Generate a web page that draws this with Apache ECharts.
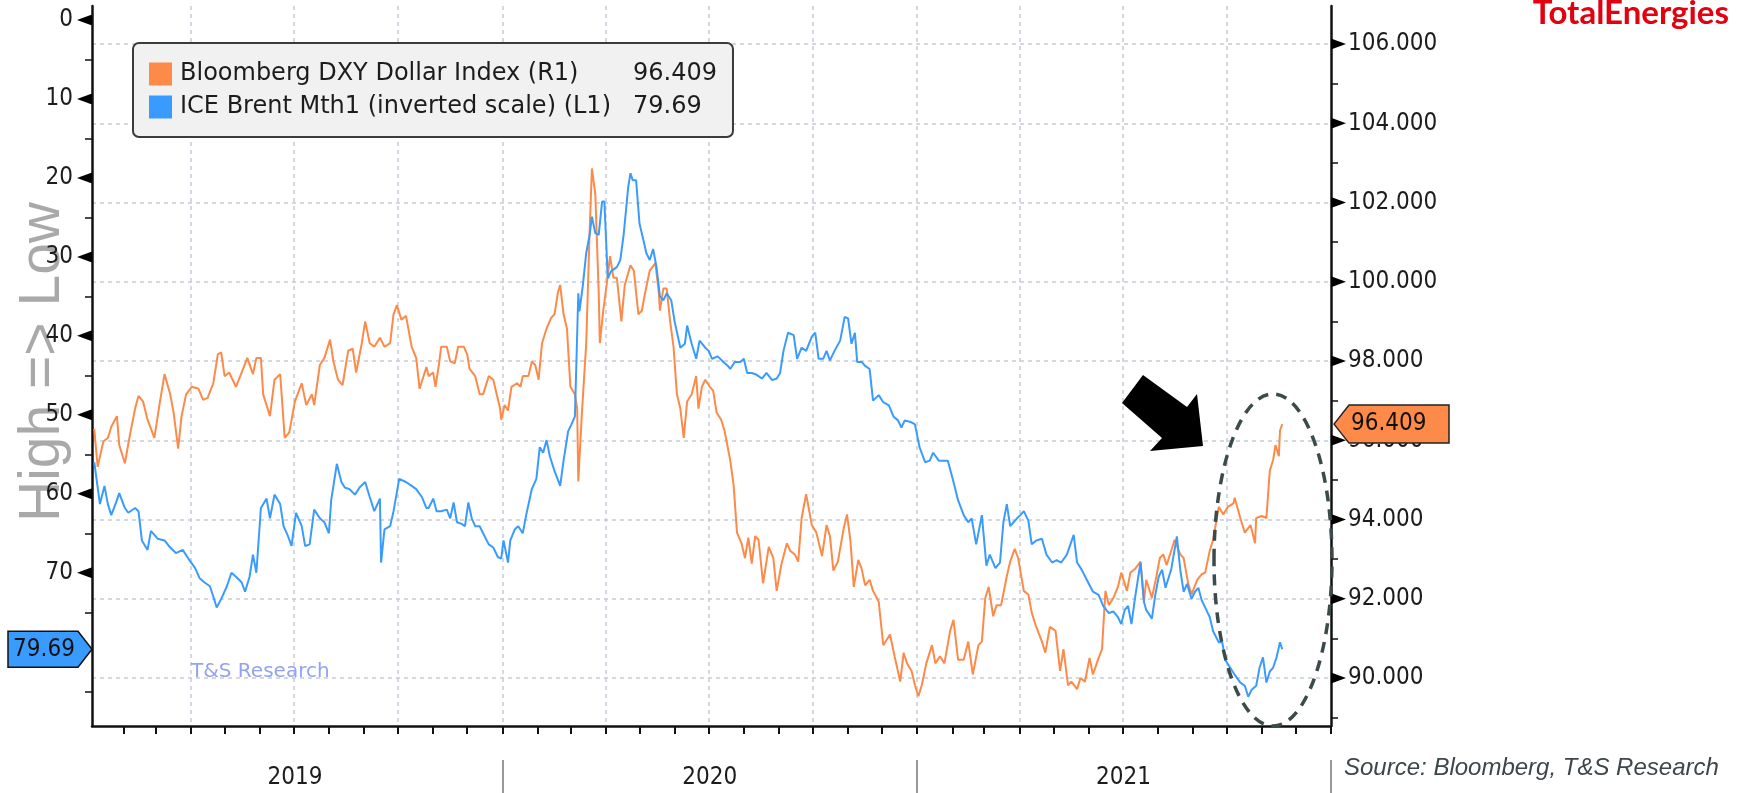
<!DOCTYPE html>
<html>
<head>
<meta charset="utf-8">
<script src="https://cdn.jsdelivr.net/npm/echarts@6/dist/echarts.min.js"></script>
<style>
  html, body { margin: 0; padding: 0; background: #fff; }
  #chart { width: 1737px; height: 793px; }
</style>
</head>
<body>
<div id="chart"></div>
<script>
var FONT = "'DejaVu Sans Condensed','DejaVu Sans',sans-serif";
var FONT_WIDE = "'DejaVu Sans',sans-serif";

// points are [days since 2019-01-04, value]
var dxy2019 = [
  [2,96.29],[5,95.33],[10,95.97],[14,96.06],[17,96.34],[22,96.61],[24,95.88],[29,95.42],[33,96.06],[38,96.80],
  [41,97.12],[45,96.98],[49,96.52],[55,96.06],[60,96.98],[64,97.67],[69,97.16],[72,96.70],[76,95.79],[79,96.61],
  [83,97.16],[88,97.35],[94,97.30],[98,97.02],[102,97.07],[107,97.44],[111,98.17],[114,98.22],[117,97.62],[121,97.71],
  [127,97.35],[132,97.71],[137,98.08],[142,97.67],[145,98.08],[149,98.08],[151,97.16],[157,96.61],[161,97.53],[166,97.67],
  [170,96.06],[174,96.20],[179,96.98],[185,97.44],[189,96.89],[194,97.16],[196,96.89],[201,97.90],[205,98.08],[210,98.54],
  [213,97.99],[217,97.53],[221,97.39],[226,98.26],[230,98.31],[233,97.71],[238,98.45],[241,99.00],[245,98.45],[249,98.36],
  [254,98.59],[258,98.36],[263,98.45],[266,99.18],[269,99.41],[273,99.04],[277,99.14],[282,98.36],[286,98.08],[289,97.30],
  [295,97.85],[297,97.62],[301,97.71],[303,97.35],[306,97.90],[308,98.36],[313,98.36],[316,97.99],[320,97.94],[323,98.36],
  [328,98.36],[331,98.17],[333,97.81],[338,97.62],[342,97.16],[345,97.16],[350,97.62],[354,97.53],[357,97.16],[360,96.80]
];
var dxy2020 = [
  [361,96.52],[364,96.89],[367,96.75],[370,97.35],[375,97.44],[378,97.35],[380,97.62],[385,97.62],[388,97.99],[391,97.90],
  [394,97.53],[397,98.45],[401,98.82],[405,99.09],[408,99.18],[411,99.73],[413,99.92],[416,99.18],[419,98.82],[422,97.35],
  [426,97.16],[428,96.80],[429,94.96],[432,96.61],[433,97.07],[436,98.45],[439,101.29],[441,102.86],[444,102.21],[447,99.73],
  [448,98.45],[451,99.27],[454,99.92],[457,100.65],[460,100.10],[463,100.10],[467,99.00],[470,99.92],[475,100.42],[478,100.28],
  [482,99.18],[485,99.27],[488,99.73],[492,100.28],[497,100.47],[500,99.73],[501,99.27],[504,99.83],[507,99.83],[510,99.00],
  [513,98.36],[516,97.16],[519,96.80],[522,96.06],[525,96.98],[529,97.16],[533,97.62],[535,96.80],[538,97.35],[541,97.53],
  [545,97.35],[548,97.25],[551,96.70],[555,96.52],[558,96.24],[563,95.50],[566,94.87],[569,93.67],[573,93.40],[576,93.03],
  [579,93.54],[582,92.89],[585,93.58],[588,93.49],[592,92.39],[597,93.31],[601,93.03],[604,92.20],[608,92.85],[613,93.40],
  [616,93.21],[620,93.12],[623,92.94],[626,94.04],[630,94.64],[635,93.86],[639,93.67],[644,93.08],[648,93.86],[651,93.58],
  [654,92.71],[658,92.94],[663,93.76],[666,94.13],[669,93.49],[672,92.30],[676,92.98],[679,92.75],[682,92.34],[686,92.48],
  [689,92.20],[694,91.93],[698,90.83],[704,91.10],[708,90.55],[713,89.91],[716,90.64],[719,90.37],[723,90.18],[726,89.82]
];
var dxy2021 = [
  [729,89.54],[732,89.82],[736,90.37],[741,90.83],[744,90.37],[748,90.55],[752,90.37],[757,91.19],[760,91.47],[764,90.46],
  [769,90.46],[773,90.92],[777,90.09],[782,90.83],[785,90.92],[788,92.02],[791,92.30],[795,91.56],[798,91.84],[802,91.84],
  [807,92.57],[810,92.94],[814,93.26],[817,93.03],[822,92.20],[826,92.11],[829,91.65],[833,91.29],[838,90.92],[841,90.64],
  [845,91.29],[850,91.19],[854,90.18],[857,90.73],[861,89.82],[864,89.91],[869,89.72],[872,90.00],[876,89.91],[880,90.51],
  [883,90.09],[888,90.51],[891,90.73],[894,92.20],[897,91.84],[901,92.02],[905,92.30],[908,92.66],[913,92.20],[916,92.66],
  [920,92.75],[925,92.94],[928,91.93],[930,92.48],[935,92.02],[939,92.57],[942,93.03],[945,93.12],[948,92.85],[951,93.12],
  [955,93.49],[960,93.12],[963,93.03],[967,92.39],[970,92.11],[975,92.48],[979,92.62],[982,92.66],[986,93.21],[989,93.49],
  [994,94.32],[998,94.13],[1002,94.32],[1007,94.41],[1008,94.55],[1013,94.04],[1017,93.67],[1022,93.86],[1026,93.40],[1027,94.04],
  [1032,94.09],[1036,94.04],[1039,95.23],[1042,95.51],[1044,95.88],[1047,95.60],[1048,96.24],[1050,96.409]
];
var brent2019 = [
  [2,56.0],[7,61.3],[11,59.0],[14,61.3],[17,62.7],[22,60.8],[24,59.9],[29,61.8],[32,62.4],[38,61.8],
  [41,62.2],[44,65.9],[49,67.1],[52,64.7],[58,65.7],[64,65.9],[69,66.8],[74,67.5],[80,67.1],[85,68.2],
  [91,69.4],[95,70.7],[99,71.2],[104,71.7],[107,73.0],[110,74.4],[114,73.3],[119,71.7],[123,70.0],[127,70.5],
  [132,71.2],[135,72.4],[139,70.5],[142,67.7],[145,70.0],[149,61.8],[154,60.6],[157,63.1],[161,60.1],[166,61.3],
  [169,64.1],[173,65.4],[176,66.6],[180,62.4],[185,64.1],[188,66.6],[192,66.4],[196,62.0],[201,63.1],[205,63.6],
  [209,65.0],[211,60.8],[216,56.2],[220,58.5],[223,59.2],[227,59.4],[232,60.1],[236,59.2],[241,58.5],[245,60.4],
  [249,62.2],[254,60.6],[255,68.7],[258,64.5],[263,64.1],[266,62.2],[271,58.1],[277,58.5],[282,59.0],[286,59.4],
  [291,60.4],[295,61.8],[297,61.8],[301,60.6],[304,62.2],[308,62.2],[313,62.0],[316,63.1],[319,61.1],[322,63.6],
  [326,63.8],[329,64.1],[332,61.1],[335,63.1],[338,64.1],[342,64.1],[345,65.0],[350,66.4],[354,66.8],[358,68.0],
  [361,68.2]
];
var brent2020 = [
  [363,65.9],[367,68.7],[369,65.9],[373,64.5],[376,64.1],[380,65.0],[383,62.7],[388,59.4],[392,58.1],[395,54.1],
  [398,54.8],[401,53.2],[404,55.3],[408,57.1],[413,59.0],[416,55.8],[420,52.1],[423,51.2],[426,50.2],[429,34.6],
  [430,36.9],[433,33.6],[436,29.5],[439,27.2],[441,24.9],[444,27.0],[447,27.2],[450,23.0],[452,23.0],[455,32.7],
  [458,31.8],[463,31.3],[466,30.4],[469,27.2],[473,21.2],[475,19.4],[477,20.3],[480,20.3],[483,25.8],[486,27.6],
  [489,29.5],[492,30.4],[495,29.0],[498,31.3],[501,35.0],[504,35.5],[507,34.6],[511,35.5],[514,38.2],[519,41.5],
  [523,41.0],[525,38.7],[529,41.0],[533,42.9],[536,40.6],[541,41.5],[544,41.9],[547,42.9],[552,42.6],[557,43.3],
  [561,43.8],[563,44.2],[567,43.3],[572,43.3],[575,42.9],[578,44.7],[582,44.7],[586,44.9],[591,45.4],[595,44.7],
  [600,45.6],[604,45.4],[607,44.7],[610,41.9],[614,39.6],[619,39.9],[622,42.9],[626,41.5],[630,41.9],[635,40.1],
  [638,39.6],[641,42.9],[645,42.9],[648,41.9],[651,43.1],[655,41.9],[660,40.6],[664,37.6],[667,37.8],[670,41.0],
  [673,39.6],[675,43.3],[679,43.3],[682,43.8],[686,44.2],[689,48.2],[694,47.5],[698,48.4],[703,48.8],[707,50.2],
  [711,50.7],[714,51.6],[717,50.7],[722,50.9],[726,51.2]
];
var brent2021 = [
  [730,54.1],[735,56.0],[739,55.8],[742,54.8],[747,55.8],[751,55.8],[755,55.8],[760,58.5],[764,60.8],[769,62.7],
  [773,63.6],[776,63.1],[780,66.4],[785,62.7],[789,69.1],[792,67.7],[797,69.4],[801,68.7],[804,63.6],[807,61.3],
  [810,64.1],[813,63.6],[816,63.1],[819,62.7],[822,62.2],[826,63.4],[829,66.4],[833,65.9],[838,65.7],[842,67.7],
  [847,68.7],[851,68.4],[855,68.7],[860,67.7],[866,65.2],[869,68.7],[873,69.6],[878,71.0],[883,72.4],[888,72.8],
  [892,74.2],[897,75.1],[901,74.9],[905,75.6],[908,76.5],[911,74.7],[914,74.2],[917,76.5],[920,73.3],[923,70.5],
  [925,68.7],[928,73.7],[930,74.7],[935,75.8],[938,72.8],[941,70.5],[944,69.6],[947,71.9],[950,70.5],[952,69.6],
  [957,65.4],[960,69.6],[963,72.4],[966,71.4],[970,73.3],[973,72.4],[976,71.9],[979,73.5],[983,74.7],[986,75.6],
  [989,77.4],[994,78.8],[997,78.8],[1000,81.1],[1004,82.0],[1008,82.9],[1013,83.9],[1017,84.3],[1020,85.7],[1023,84.8],
  [1027,84.3],[1030,82.0],[1033,80.7],[1036,83.9],[1039,82.5],[1042,82.0],[1045,80.7],[1048,78.8],[1050,79.69]
];

var leftLabels = [0, 10, 20, 30, 40, 50, 60, 70];
var leftMinor = [5, 15, 25, 35, 45, 55, 65, 75, 85];
var rightLabels = [90, 92, 94, 96, 98, 100, 102, 104, 106];
var rightMinor = [89, 91, 93, 95, 97, 99, 101, 103, 105];
var years = [2019, 2020, 2021];

var nameDxy = 'Bloomberg DXY Dollar Index (R1)';
var nameBrent = 'ICE Brent Mth1 (inverted scale) (L1)';
var ORANGE = '#fd8a48';
var BLUE = '#3a9bff';

// little black pointers used on the major ticks
var triLeft = 'data:image/svg+xml;utf8,' + encodeURIComponent(
  '<svg xmlns="http://www.w3.org/2000/svg" width="15" height="11"><polygon points="0,5.5 15,0 15,11" fill="#000"/></svg>');
var triRight = 'data:image/svg+xml;utf8,' + encodeURIComponent(
  '<svg xmlns="http://www.w3.org/2000/svg" width="15" height="11"><polygon points="15,5.5 0,0 0,11" fill="#000"/></svg>');

function day(s) {
  var p = s.split('-');
  return new Date(+p[0], +p[1] - 1, +p[2]).getTime();
}
function toTime(parts) {
  var out = [];
  parts.forEach(function (arr) {
    arr.forEach(function (p) { out.push([new Date(2019, 0, 4 + p[0]).getTime(), p[1]]); });
  });
  return out;
}
var dxyData = toTime([dxy2019, dxy2020, dxy2021]);
var brentData = toTime([brent2019, brent2020, brent2021]);
var dxyLast = dxy2021[dxy2021.length - 1][1];
var brentLast = brent2021[brent2021.length - 1][1];

// month ticks, quarter grid lines, year separators
var monthTicks = [], quarterLines = [], yearSeps = [], yearMids = [];
for (var y = 2019; y <= 2021; y++) {
  for (var m = 0; m < 12; m++) {
    var t = new Date(y, m, 1).getTime();
    if (y === 2019 && m === 0) continue;
    monthTicks.push(t);
    if (m % 3 === 0) quarterLines.push(t);
  }
  yearSeps.push(new Date(y + 1, 0, 1).getTime());
}
monthTicks.push(new Date(2022, 0, 1).getTime());
years.forEach(function (yy) { yearMids.push(new Date(yy, 6, 2).getTime()); });

var xMin = day('2019-01-04'), xMax = day('2022-01-01');
var leftMin = -1.77, leftMax = 89.4;
var rightMin = 88.79, rightMax = 106.96;

var lastVal = {};
lastVal[nameDxy] = dxyLast.toFixed(3);
lastVal[nameBrent] = brentLast.toFixed(2);

var gridLine = { show: true, lineStyle: { color: '#c6cbd6', type: [4, 4], width: 1.5 } };

var option = {
  animation: false,
  backgroundColor: '#fff',
  grid: { left: 92, right: 406, top: 6, bottom: 67, containLabel: false, outerBoundsMode: 'none' },
  legend: {
    orient: 'vertical',
    left: 133,
    top: 43,
    icon: 'rect',
    itemWidth: 23,
    itemHeight: 23,
    itemGap: 9,
    padding: [19, 16, 18, 16],
    backgroundColor: '#f1f1f1',
    borderColor: '#3b3b3b',
    borderWidth: 2,
    borderRadius: 6,
    data: [nameDxy, nameBrent],
    formatter: function (name) {
      return '{n|' + name + '}{v|' + lastVal[name] + '}';
    },
    textStyle: {
      fontFamily: FONT_WIDE,
      fontSize: 24,
      color: '#1c1c1c',
      rich: {
        n: { width: 453, fontFamily: FONT_WIDE, fontSize: 24, color: '#1c1c1c', padding: [0, 0, 0, 3] },
        v: { fontFamily: FONT_WIDE, fontSize: 24, color: '#1c1c1c' }
      }
    }
  },
  xAxis: [
    {
      type: 'value', min: xMin, max: xMax, position: 'bottom',
      axisLine: { onZero: false, lineStyle: { color: '#111', width: 2.5 } },
      axisTick: { show: true, length: 8, customValues: monthTicks, lineStyle: { color: '#111', width: 2 } },
      axisLabel: { show: false },
      splitLine: { show: false }
    },
    {
      type: 'value', min: xMin, max: xMax, position: 'bottom',
      axisLine: { show: false, onZero: false },
      axisTick: { show: false, customValues: quarterLines },
      axisLabel: { show: false },
      splitLine: gridLine
    },
    {
      type: 'value', min: xMin, max: xMax, position: 'bottom', offset: 34,
      axisLine: { show: false, onZero: false },
      axisTick: { show: true, length: 33, customValues: yearSeps, lineStyle: { color: '#777', width: 1.5 } },
      axisLabel: {
        show: true, customValues: yearMids, margin: 6,
        fontFamily: FONT, fontSize: 24, color: '#1c1c1c',
        formatter: function (v) { return String(new Date(v).getFullYear()); }
      },
      splitLine: { show: false }
    }
  ],
  yAxis: [
    {
      type: 'value', position: 'left', inverse: true, min: leftMin, max: leftMax,
      axisLine: { show: true, onZero: false, lineStyle: { color: '#111', width: 2.5 } },
      axisTick: { show: true, length: 7, customValues: leftMinor, lineStyle: { color: '#111', width: 1.5 } },
      axisLabel: {
        show: true, customValues: leftLabels, margin: 0,
        formatter: function (v) { return '{v|' + v + '}{a| }'; },
        rich: {
          v: { fontFamily: FONT, fontSize: 24, color: '#1c1c1c', padding: [0, 4, 0, 0] },
          a: { width: 15, height: 11, backgroundColor: { image: triLeft } }
        }
      },
      splitLine: { show: false }
    },
    {
      type: 'value', position: 'right', min: rightMin, max: rightMax,
      axisLine: { show: true, onZero: false, lineStyle: { color: '#111', width: 2.5 } },
      axisTick: { show: true, length: 7, customValues: rightMinor, lineStyle: { color: '#111', width: 1.5 } },
      axisLabel: {
        show: true, customValues: rightLabels, margin: 0,
        formatter: function (v) { return '{a| }{v|' + v.toFixed(3) + '}'; },
        rich: {
          v: { fontFamily: FONT, fontSize: 24, color: '#1c1c1c', padding: [0, 0, 0, 2] },
          a: { width: 15, height: 11, backgroundColor: { image: triRight } }
        }
      },
      splitLine: { show: false }
    },
    {
      type: 'value', position: 'right', min: rightMin, max: rightMax,
      axisLine: { show: false, onZero: false },
      axisTick: { show: false, customValues: rightLabels },
      axisLabel: { show: false },
      splitLine: gridLine
    }
  ],
  series: [
    {
      name: nameDxy, type: 'line', xAxisIndex: 0, yAxisIndex: 1,
      showSymbol: false, symbol: 'none', color: ORANGE,
      lineStyle: { width: 2, color: ORANGE },
      data: dxyData
    },
    {
      name: nameBrent, type: 'line', xAxisIndex: 0, yAxisIndex: 0,
      showSymbol: false, symbol: 'none', color: BLUE,
      lineStyle: { width: 2, color: BLUE },
      data: brentData
    }
  ]
};

var chart = echarts.init(document.getElementById('chart'));
chart.setOption(option);

// value tags on both axes, placed from the last values
var yo = chart.convertToPixel({ yAxisIndex: 1 }, dxyLast);
var yb = chart.convertToPixel({ yAxisIndex: 0 }, brentLast);
var xr = 1737 - 406, xl = 92;

chart.setOption({
  graphic: [
    {
      type: 'text', x: 43, y: 362, rotation: Math.PI / 2, z: -1,
      style: { text: 'High => Low', font: '57px "Liberation Sans"', fill: '#a9a9a9',
               align: 'center', verticalAlign: 'middle', textAlign: 'center', textVerticalAlign: 'middle' }
    },
    {
      type: 'text', x: 191, y: 672, z: 5,
      style: { text: 'T&S Research', font: "20px 'DejaVu Sans'", fill: '#93a3ee',
               verticalAlign: 'middle', textVerticalAlign: 'middle' }
    },
    {
      type: 'text', x: 1729, y: 13, z: 5,
      style: { text: 'TotalEnergies', font: 'bold 33px Lato', fill: '#e3000f',
               align: 'right', verticalAlign: 'middle', textAlign: 'right', textVerticalAlign: 'middle' }
    },
    {
      type: 'text', x: 1344, y: 768, z: 5,
      style: { text: 'Source: Bloomberg, T&S Research', font: 'italic 24px "Liberation Sans"', fill: '#3d4649',
               verticalAlign: 'middle', textVerticalAlign: 'middle' }
    },
    {
      type: 'polygon', z: 20,
      shape: { points: [[1143, 375], [1187, 407], [1197, 394], [1203, 446], [1150, 451], [1162, 438], [1122, 403]] },
      style: { fill: '#000' }
    },
    {
      type: 'ellipse', z: 20,
      shape: { cx: 1273, cy: 560, rx: 59, ry: 166 },
      style: { fill: 'none', stroke: '#3b4a4a', lineWidth: 3.5, lineDash: [11, 8] }
    },
    {
      type: 'polygon', z: 30,
      shape: { points: [[xr + 3, yo], [xr + 18, yo - 19], [xr + 118, yo - 19], [xr + 118, yo + 19], [xr + 18, yo + 19]] },
      style: { fill: ORANGE, stroke: '#222', lineWidth: 1.5 }
    },
    {
      type: 'text', x: xr + 20, y: yo, z: 31,
      style: { text: lastVal[nameDxy], font: "24px 'DejaVu Sans Condensed','DejaVu Sans'", fill: '#111',
               verticalAlign: 'middle', textVerticalAlign: 'middle' }
    },
    {
      type: 'polygon', z: 30,
      shape: { points: [[8, yb - 18], [xl - 14, yb - 18], [xl, yb], [xl - 14, yb + 18], [8, yb + 18]] },
      style: { fill: BLUE, stroke: '#111', lineWidth: 1.5 }
    },
    {
      type: 'text', x: 44, y: yb, z: 31,
      style: { text: lastVal[nameBrent], font: "24px 'DejaVu Sans Condensed','DejaVu Sans'", fill: '#111',
               align: 'center', verticalAlign: 'middle', textAlign: 'center', textVerticalAlign: 'middle' }
    }
  ]
});
</script>
</body>
</html>
